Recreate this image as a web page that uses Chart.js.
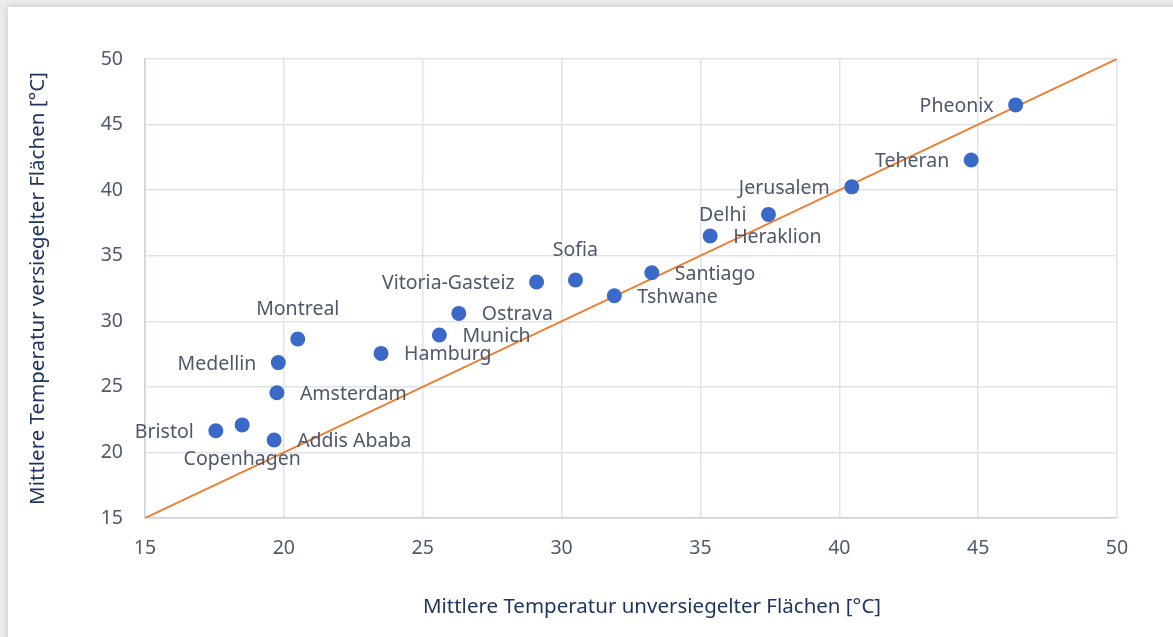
<!DOCTYPE html>
<html><head><meta charset="utf-8">
<script src="https://cdn.jsdelivr.net/npm/chart.js@4"></script>
<style>
html,body{margin:0;padding:0;width:1173px;height:637px;overflow:hidden;background:#ececec;}
#card{position:absolute;left:8px;top:7px;width:1220px;height:700px;background:#fff;box-shadow:0 0 8px rgba(0,0,0,0.16);}
#wrap{position:absolute;left:0;top:0;width:1173px;height:637px;}
</style></head><body>
<div id="card"></div>
<div id="wrap"><canvas id="c" width="1173" height="637"></canvas></div>
<script>
// ---- data ----
const cities = ["Pheonix","Teheran","Jerusalem","Delhi","Heraklion","Santiago","Tshwane","Sofia","Vitoria-Gasteiz","Ostrava","Munich","Hamburg","Montreal","Medellin","Amsterdam","Bristol","Copenhagen","Addis Ababa"];
const unsealedTemp = [46.35, 44.75, 40.45, 37.45, 35.35, 33.25, 31.9, 30.5, 29.1, 26.3, 25.6, 23.5, 20.5, 19.8, 19.75, 17.55, 18.5, 19.65];
const sealedTemp   = [46.5, 42.3, 40.25, 38.15, 36.5, 33.7, 31.95, 33.15, 33.0, 30.6, 28.95, 27.55, 28.65, 26.85, 24.55, 21.65, 22.1, 20.95];
const refLineX = [15, 50];
const refLineY = [15, 50];
const xTickValues = [15, 20, 25, 30, 35, 40, 45, 50];
const yTickValues = [15, 20, 25, 30, 35, 40, 45, 50];
const xTitle = "Mittlere Temperatur unversiegelter Flächen [°C]";
const yTitle = "Mittlere Temperatur versiegelter Flächen [°C]";

// ---- label placement (style) ----
const labelPlacement = ["left","left","left","left","right","right","right","above","left","right","right","right","above","left","right","left","below","right"];

const FONT = '"Noto Sans", "Open Sans", sans-serif';
const TICK_COLOR = '#4f5a6e';
const TITLE_COLOR = '#1f3560';

const pointLabels = {
  id: 'pointLabels',
  afterDatasetsDraw(chart) {
    const meta = chart.getDatasetMeta(0);
    const ctx = chart.ctx;
    ctx.save();
    ctx.font = '19.5px ' + FONT;
    ctx.fillStyle = '#4d586c';
    ctx.textBaseline = 'middle';
    meta.data.forEach((pt, i) => {
      const pos = labelPlacement[i];
      let x = pt.x, y = pt.y + 1.5;
      if (pos === 'left') { ctx.textAlign = 'right'; x -= 22; }
      else if (pos === 'right') { ctx.textAlign = 'left'; x += 23; }
      else if (pos === 'above') { ctx.textAlign = 'center'; y -= 31; }
      else { ctx.textAlign = 'center'; y += 33; }
      ctx.fillText(cities[i], x, y);
    });
    ctx.restore();
  }
};

const xAxisTitle = {
  id: 'xAxisTitle',
  afterDraw(chart) {
    const ctx = chart.ctx, a = chart.chartArea;
    ctx.save();
    ctx.font = '20.5px ' + FONT;
    ctx.fillStyle = TITLE_COLOR;
    ctx.textAlign = 'center';
    ctx.textBaseline = 'middle';
    ctx.fillText(xTitle, (a.left + a.right) / 2 + 21, 607);
    ctx.restore();
  }
};

const cityPoints = unsealedTemp.map((x, i) => ({ x: x, y: sealedTemp[i] }));
const refPoints = refLineX.map((x, i) => ({ x: x, y: refLineY[i] }));

new Chart(document.getElementById('c'), {
  type: 'scatter',
  data: {
    datasets: [
      {
        label: 'Städte',
        data: cityPoints,
        backgroundColor: '#3a69c8',
        borderColor: '#3a69c8',
        borderWidth: 0,
        pointRadius: 7.5,
        pointHoverRadius: 7.5
      },
      {
        label: 'y = x',
        type: 'line',
        data: refPoints,
        borderColor: '#ed7d31',
        borderWidth: 2,
        pointRadius: 0,
        fill: false,
        tension: 0
      }
    ]
  },
  options: {
    responsive: false,
    animation: false,
    devicePixelRatio: 1,
    layout: { padding: { top: 59, right: 56, left: 0, bottom: 0 } },
    plugins: { legend: { display: false }, tooltip: { enabled: false } },
    scales: {
      x: {
        type: 'linear', min: 15, max: 50,
        afterBuildTicks: s => { s.ticks = xTickValues.map(v => ({ value: v })); },
        afterFit: s => { s.height = 637 - 518; },
        grid: { color: '#dfe3ea', lineWidth: 1.5, drawTicks: false },
        border: { color: '#cdd3de', width: 1.5 },
        ticks: { color: TICK_COLOR, font: { family: FONT, size: 19.5 }, padding: 19, maxRotation: 0 }
      },
      y: {
        type: 'linear', min: 15, max: 50,
        afterBuildTicks: s => { s.ticks = yTickValues.map(v => ({ value: v })); },
        afterFit: s => { s.width = 145; },
        grid: { color: '#dfe3ea', lineWidth: 1.5, drawTicks: false },
        border: { color: '#cdd3de', width: 1.5 },
        ticks: { color: TICK_COLOR, font: { family: FONT, size: 19.5 }, padding: 22 },
        title: { display: true, text: yTitle, color: TITLE_COLOR, font: { family: FONT, size: 20.5 }, padding: { top: 26, bottom: 0 } }
      }
    }
  },
  plugins: [pointLabels, xAxisTitle]
});
</script>
</body></html>
